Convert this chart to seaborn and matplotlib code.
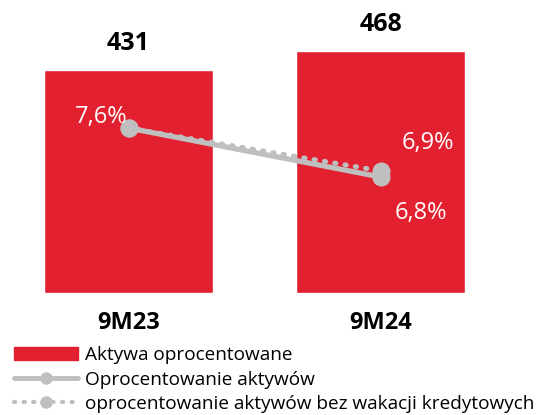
import pandas as pd
import seaborn as sns
import matplotlib.pyplot as plt
from matplotlib.patches import Patch
from matplotlib.lines import Line2D

# data
periods = ["9M23", "9M24"]
aktywa = [431, 468]
oproc = [7.6, 6.8]
oproc_bez = [7.6, 6.9]
oproc_labels = ["7,6%", "6,8%"]
oproc_bez_labels = ["7,6%", "6,9%"]

RED = "#E3202F"
GREY = "#BFBFBF"

sns.set_style("white")
plt.rcParams['font.family'] = ['Open Sans', 'DejaVu Sans']
plt.rcParams['text.color'] = 'black'
plt.rcParams['xtick.color'] = 'black'

df = pd.DataFrame({"okres": periods, "aktywa": aktywa})
dfl = pd.DataFrame({"x": [0, 1], "oproc": oproc, "oproc_bez": oproc_bez})

fig = plt.figure(figsize=(5.38, 4.15), dpi=100)
ax = fig.add_axes([0, 0.294, 1, 0.706])

# bars - Aktywa oprocentowane
b = sns.barplot(data=df, x="okres", y="aktywa", color=RED, width=0.67,
                saturation=1, ax=ax)
b.set_xlim(-0.51, 1.625)
b.set_ylim(0, 566)
b.bar_label(b.containers[0], padding=10, fontsize=18, fontweight="bold",
            color="black")
b.set_xlabel("")
b.set_ylabel("")
b.set_yticks([])
b.tick_params(axis="x", length=0, pad=13, labelsize=17, labelcolor="black")
for t in b.get_xticklabels():
    t.set_fontweight("bold")
sns.despine(ax=b, left=True, bottom=True)

# lines - oprocentowanie on second axis
ax2 = ax.twinx()
sns.lineplot(data=dfl, x="x", y="oproc_bez", ax=ax2, color=GREY, lw=3.5,
             linestyle=(0, (0.3, 1.85)), dash_capstyle="round",
             marker="o", markersize=13, markeredgewidth=0)
sns.lineplot(data=dfl, x="x", y="oproc", ax=ax2, color=GREY, lw=3.8,
             marker="o", markersize=13, markeredgewidth=0)
ax2.set_ylim(4.906, 9.69)
ax2.set_xlim(-0.51, 1.625)
ax2.set_yticks([])
ax2.set_ylabel("")
ax2.set_xlabel("")
sns.despine(ax=ax2, left=True, bottom=True, right=True)

ax2.annotate(oproc_labels[0], (0, oproc[0]), xytext=(-20, 8),
             textcoords="offset points", ha="center", va="center",
             color="white", fontsize=17)
ax2.annotate(oproc_bez_labels[1], (1, oproc_bez[1]), xytext=(34, 20),
             textcoords="offset points", ha="center", va="center",
             color="white", fontsize=17)
ax2.annotate(oproc_labels[1], (1, oproc[1]), xytext=(29, -26),
             textcoords="offset points", ha="center", va="center",
             color="white", fontsize=17)

handles = [
    Patch(color=RED),
    Line2D([], [], color=GREY, lw=3.5, marker="o", markersize=9,
           markeredgewidth=0),
    Line2D([], [], color=GREY, lw=3, linestyle=(0, (0.3, 2.0)),
           dash_capstyle="round", marker="o", markersize=9,
           markeredgewidth=0),
]
labels = ["Aktywa oprocentowane", "Oprocentowanie aktywów",
          "oprocentowanie aktywów bez wakacji kredytowych"]
fig.legend(handles, labels, loc="upper left", bbox_to_anchor=(0.022, 0.17),
           frameon=False, fontsize=13.7, handlelength=3.4, handletextpad=0.35,
           labelspacing=0.33, borderaxespad=0, borderpad=0.1, numpoints=1)

fig.savefig("out.png", dpi=100)
